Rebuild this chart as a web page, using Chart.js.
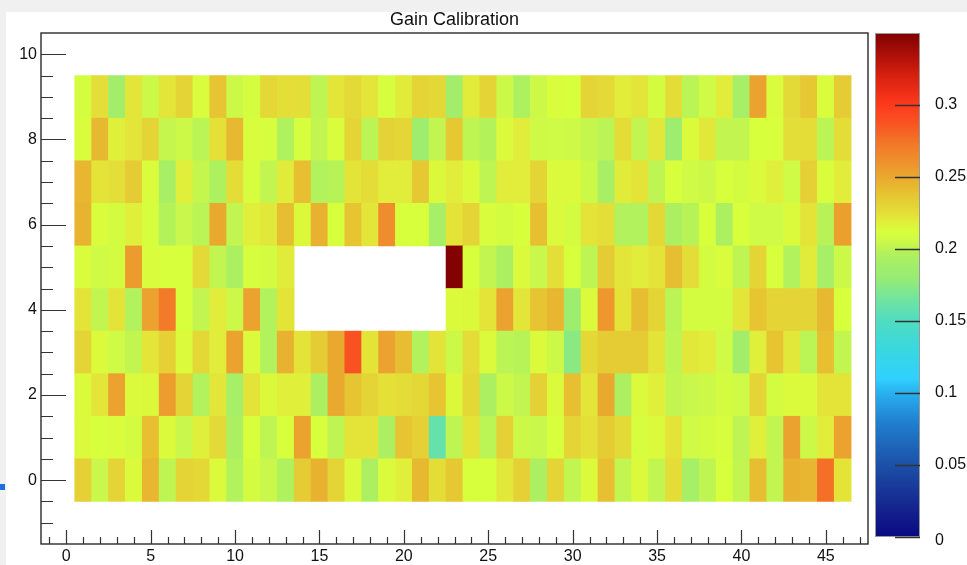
<!DOCTYPE html>
<html>
<head>
<meta charset="utf-8">
<title>Gain Calibration</title>
<script src="https://cdn.jsdelivr.net/npm/chart.js@4/dist/chart.umd.min.js"></script>
<style>
  html, body { margin: 0; padding: 0; background: #f0f0f0; }
  #wrap { position: relative; width: 967px; height: 565px; overflow: hidden; }
  canvas { display: block; }
  #mark { position: absolute; left: 0; top: 484px; width: 5px; height: 6px; background: #1d6fe0; }
</style>
</head>
<body>
<div id="wrap">
  <canvas id="c" width="967" height="565"></canvas>
  <div id="mark"></div>
</div>
<script>
// Channel columns (x) and rows (y) of the calibration map
const columns = Array.from({length: 46}, (_, i) => i + 1);
const rows = [0, 1, 2, 3, 4, 5, 6, 7, 8, 9];

// Gain per cell, one array per row (index 0 = column 1). null = no entry.
const gainRow0 = [0.232,0.204,0.230,0.214,0.244,0.201,0.230,0.228,0.214,0.197,0.209,0.204,
                  0.196,0.234,0.246,0.230,0.214,0.194,0.214,0.218,0.243,0.226,0.236,0.212,
                  0.212,0.221,0.232,0.194,0.230,0.202,0.214,0.240,0.202,0.214,0.202,0.226,
                  0.191,0.201,0.212,0.202,0.241,0.202,0.246,0.244,0.276,0.223];
const gainRow1 = [0.214,0.212,0.213,0.209,0.240,0.214,0.204,0.218,0.227,0.194,0.212,0.201,
                  0.212,0.253,0.212,0.201,0.223,0.223,0.194,0.238,0.232,0.160,0.201,0.223,
                  0.200,0.232,0.205,0.204,0.212,0.230,0.224,0.234,0.227,0.211,0.214,0.223,
                  0.207,0.209,0.211,0.201,0.218,0.202,0.253,0.205,0.219,0.253];
const gainRow2 = [0.214,0.222,0.253,0.214,0.215,0.255,0.230,0.197,0.222,0.191,0.223,0.215,
                  0.218,0.218,0.194,0.250,0.238,0.230,0.224,0.226,0.228,0.238,0.215,0.228,
                  0.194,0.205,0.202,0.232,0.214,0.240,0.222,0.250,0.194,0.214,0.218,0.202,
                  0.204,0.205,0.209,0.207,0.230,0.209,0.214,0.214,0.223,0.223];
const gainRow3 = [0.230,0.214,0.207,0.202,0.222,0.232,0.214,0.228,0.219,0.253,0.214,0.197,
                  0.246,0.223,0.234,0.250,0.288,0.223,0.253,0.241,0.197,0.223,0.205,0.226,
                  0.214,0.200,0.199,0.214,0.205,0.175,0.228,0.234,0.234,0.234,0.223,0.201,
                  0.221,0.219,0.207,0.188,0.218,0.238,0.221,0.200,0.240,0.202];
const gainRow4 = [0.223,0.202,0.223,0.197,0.253,0.272,0.212,0.202,0.219,0.205,0.253,0.197,
                  0.223,null,null,null,null,null,null,null,null,null,0.214,0.215,
                  0.223,0.253,0.222,0.238,0.244,0.184,0.214,0.258,0.223,0.241,0.230,0.200,
                  0.209,0.209,0.209,0.222,0.238,0.230,0.230,0.230,0.243,0.212];
const gainRow5 = [0.213,0.207,0.209,0.256,0.213,0.212,0.212,0.227,0.202,0.194,0.211,0.209,
                  0.220,null,null,null,null,null,null,null,null,null,0.349,0.212,
                  0.202,0.194,0.214,0.204,0.225,0.212,0.201,0.234,0.222,0.219,0.223,0.241,
                  0.226,0.209,0.213,0.201,0.230,0.212,0.197,0.220,0.191,0.205];
const gainRow6 = [0.245,0.213,0.209,0.218,0.211,0.198,0.204,0.200,0.250,0.202,0.218,0.221,
                  0.241,0.215,0.246,0.212,0.238,0.222,0.263,0.212,0.212,0.191,0.223,0.230,
                  0.213,0.209,0.212,0.240,0.214,0.209,0.223,0.225,0.197,0.197,0.228,0.194,
                  0.199,0.212,0.194,0.212,0.207,0.207,0.214,0.223,0.199,0.254];
const gainRow7 = [0.244,0.223,0.225,0.234,0.213,0.192,0.218,0.203,0.195,0.226,0.211,0.202,
                  0.220,0.240,0.197,0.199,0.223,0.226,0.219,0.219,0.236,0.215,0.219,0.214,
                  0.201,0.219,0.219,0.230,0.214,0.214,0.205,0.192,0.220,0.223,0.201,0.212,
                  0.207,0.205,0.212,0.209,0.214,0.218,0.207,0.232,0.213,0.219];
const gainRow8 = [0.213,0.243,0.218,0.222,0.230,0.203,0.205,0.200,0.224,0.243,0.213,0.211,
                  0.196,0.211,0.202,0.213,0.230,0.200,0.231,0.229,0.186,0.202,0.236,0.201,
                  0.198,0.214,0.219,0.206,0.207,0.206,0.203,0.200,0.226,0.202,0.221,0.184,
                  0.214,0.221,0.202,0.202,0.212,0.212,0.225,0.226,0.200,0.226];
const gainRow9 = [0.210,0.225,0.188,0.222,0.205,0.222,0.230,0.213,0.238,0.205,0.210,0.228,
                  0.225,0.225,0.201,0.222,0.227,0.222,0.211,0.220,0.230,0.228,0.188,0.220,
                  0.230,0.205,0.195,0.205,0.213,0.212,0.230,0.227,0.219,0.222,0.209,0.226,
                  0.200,0.207,0.219,0.191,0.253,0.213,0.227,0.236,0.213,0.234];
const gainRows = [gainRow0, gainRow1, gainRow2, gainRow3, gainRow4,
                  gainRow5, gainRow6, gainRow7, gainRow8, gainRow9];

// Axis tick labels
const xTickValues = [0, 5, 10, 15, 20, 25, 30, 35, 40, 45];
const yTickValues = [0, 2, 4, 6, 8, 10];
const zTickValues = [0, 0.05, 0.1, 0.15, 0.2, 0.25, 0.3];
const zTickLabels = ['0', '0.05', '0.1', '0.15', '0.2', '0.25', '0.3'];
const zMin = 0, zMax = 0.35;

// Colour palette: [value, colour]
const paletteStops = [
  [0.000, '#0a0a80'], [0.020, '#14248e'], [0.050, '#1c50a8'], [0.080, '#2080d0'],
  [0.100, '#28b0f0'], [0.110, '#30d0ff'], [0.130, '#38d8e0'], [0.150, '#50dcc0'],
  [0.165, '#70e4a0'], [0.180, '#98ec74'], [0.190, '#a4ee68'], [0.198, '#b4f25a'],
  [0.205, '#ccf848'], [0.212, '#d8ff3c'], [0.218, '#e0f03a'], [0.224, '#e4e038'],
  [0.230, '#e4d436'], [0.238, '#e6c432'], [0.245, '#e8b430'], [0.252, '#eaa42e'],
  [0.260, '#ee922c'], [0.272, '#f27a28'], [0.288, '#f85222'], [0.300, '#ff3a1c'],
  [0.320, '#d82010'], [0.350, '#800000']
];

function hexToRgb(h) {
  const n = parseInt(h.slice(1), 16);
  return [(n >> 16) & 255, (n >> 8) & 255, n & 255];
}
function paletteColor(v) {
  const s = paletteStops;
  if (v <= s[0][0]) return s[0][1];
  if (v >= s[s.length - 1][0]) return s[s.length - 1][1];
  for (let i = 1; i < s.length; i++) {
    if (v <= s[i][0]) {
      const t = (v - s[i - 1][0]) / (s[i][0] - s[i - 1][0]);
      const a = hexToRgb(s[i - 1][1]), b = hexToRgb(s[i][1]);
      const c = a.map((x, k) => Math.round(x + (b[k] - x) * t));
      return `rgb(${c[0]},${c[1]},${c[2]})`;
    }
  }
}

// One floating-bar dataset per row: each bar spans the row's bin [y-0.5, y+0.5]
const datasets = rows.map((r, ri) => ({
  data: columns
    .map((c, ci) => ({ x: c, y: [r - 0.5, r + 0.5], v: gainRows[ri][ci] }))
    .filter(d => d.v !== null),
  backgroundColor: ctx => paletteColor(ctx.raw.v),
  borderWidth: 0,
  barPercentage: 1,
  categoryPercentage: 1,
  grouped: false
}));

const FONT = '"Liberation Sans", Arial, Helvetica, sans-serif';

// Page background, title, frame with inward ticks and the colour scale
const decorations = {
  id: 'decorations',
  beforeDraw(chart) {
    const g = chart.ctx;
    g.save();
    g.fillStyle = '#f0f0f0';
    g.fillRect(0, 0, chart.width, chart.height);
    g.fillStyle = '#ffffff';
    g.fillRect(6, 12, chart.width - 6, chart.height - 12);
    g.restore();
  },
  afterDatasetsDraw(chart) {
    const g = chart.ctx;
    const a = chart.chartArea;
    const xs = chart.scales.x, ys = chart.scales.y;
    g.save();
    g.strokeStyle = '#1a1a1a';
    g.lineWidth = 1.3;
    g.strokeRect(a.left, a.top, a.right - a.left, a.bottom - a.top);

    g.strokeStyle = '#333';
    g.lineWidth = 1.2;
    g.beginPath();
    // x ticks: major every 5, minor every 1, pointing up into the frame
    for (let v = -1; v <= 47; v++) {
      const px = Math.round(xs.getPixelForValue(v)) + 0.5;
      const len = (v % 5 === 0) ? 14 : 7;
      g.moveTo(px, a.bottom);
      g.lineTo(px, a.bottom - len);
    }
    // y ticks: major every 2, minor every 0.5, pointing right into the frame
    for (let k = -2; k <= 20; k++) {
      const v = k / 2;
      const py = Math.round(ys.getPixelForValue(v)) + 0.5;
      const len = (k % 4 === 0) ? 25 : 12;
      g.moveTo(a.left, py);
      g.lineTo(a.left + len, py);
    }
    g.stroke();
    g.restore();
  },
  afterDraw(chart) {
    const g = chart.ctx;
    const a = chart.chartArea;
    g.save();
    // title
    g.fillStyle = '#111';
    g.font = '18px ' + FONT;
    g.textAlign = 'center';
    g.textBaseline = 'middle';
    g.fillText('Gain Calibration', (a.left + a.right) / 2, 20);

    // colour scale
    const x0 = 875, x1 = 920, yTop = a.top, yBot = 537;
    const zPix = v => yBot - (v - zMin) / (zMax - zMin) * (yBot - yTop);
    const grad = g.createLinearGradient(0, yBot, 0, yTop);
    paletteStops.forEach(([v, c]) => grad.addColorStop((v - zMin) / (zMax - zMin), c));
    g.fillStyle = grad;
    g.fillRect(x0, yTop, x1 - x0, yBot - yTop);
    g.strokeStyle = '#999';
    g.lineWidth = 1;
    g.strokeRect(x0 + 0.5, yTop + 0.5, x1 - x0 - 1, yBot - yTop - 1);

    g.strokeStyle = '#333';
    g.lineWidth = 1.3;
    g.beginPath();
    zTickValues.forEach(v => {
      const py = Math.round(zPix(v)) + 0.5;
      g.moveTo(x1 - 25, py);
      g.lineTo(x1, py);
    });
    g.stroke();

    g.fillStyle = '#111';
    g.font = '16px ' + FONT;
    g.textAlign = 'left';
    g.textBaseline = 'middle';
    zTickValues.forEach((v, i) => {
      g.fillText(zTickLabels[i], 935, zPix(v) + (v === zMin ? 4 : 0));
    });
    g.restore();
  }
};

new Chart(document.getElementById('c'), {
  type: 'bar',
  data: { datasets },
  options: {
    responsive: false,
    animation: false,
    devicePixelRatio: 1,
    layout: { padding: { top: 33, right: 99, left: 0, bottom: 0 } },
    plugins: { legend: { display: false }, tooltip: { enabled: false }, title: { display: false } },
    scales: {
      x: {
        type: 'linear',
        min: -1.5,
        max: 47.5,
        offset: false,
        grid: { display: false, drawTicks: false, offset: false },
        border: { display: false },
        ticks: { color: '#111', font: { family: FONT, size: 16 }, padding: 3, maxRotation: 0, autoSkip: false },
        afterBuildTicks: s => { s.ticks = xTickValues.map(v => ({ value: v })); },
        afterFit: s => { s.height = 21; }
      },
      y: {
        type: 'linear',
        min: -1.5,
        max: 10.5,
        beginAtZero: false,
        grid: { display: false, drawTicks: false },
        border: { display: false },
        ticks: { color: '#111', font: { family: FONT, size: 16 }, padding: 4 },
        afterBuildTicks: s => { s.ticks = yTickValues.map(v => ({ value: v })); },
        afterFit: s => { s.width = 41; }
      }
    }
  },
  plugins: [decorations]
});
</script>
</body>
</html>
